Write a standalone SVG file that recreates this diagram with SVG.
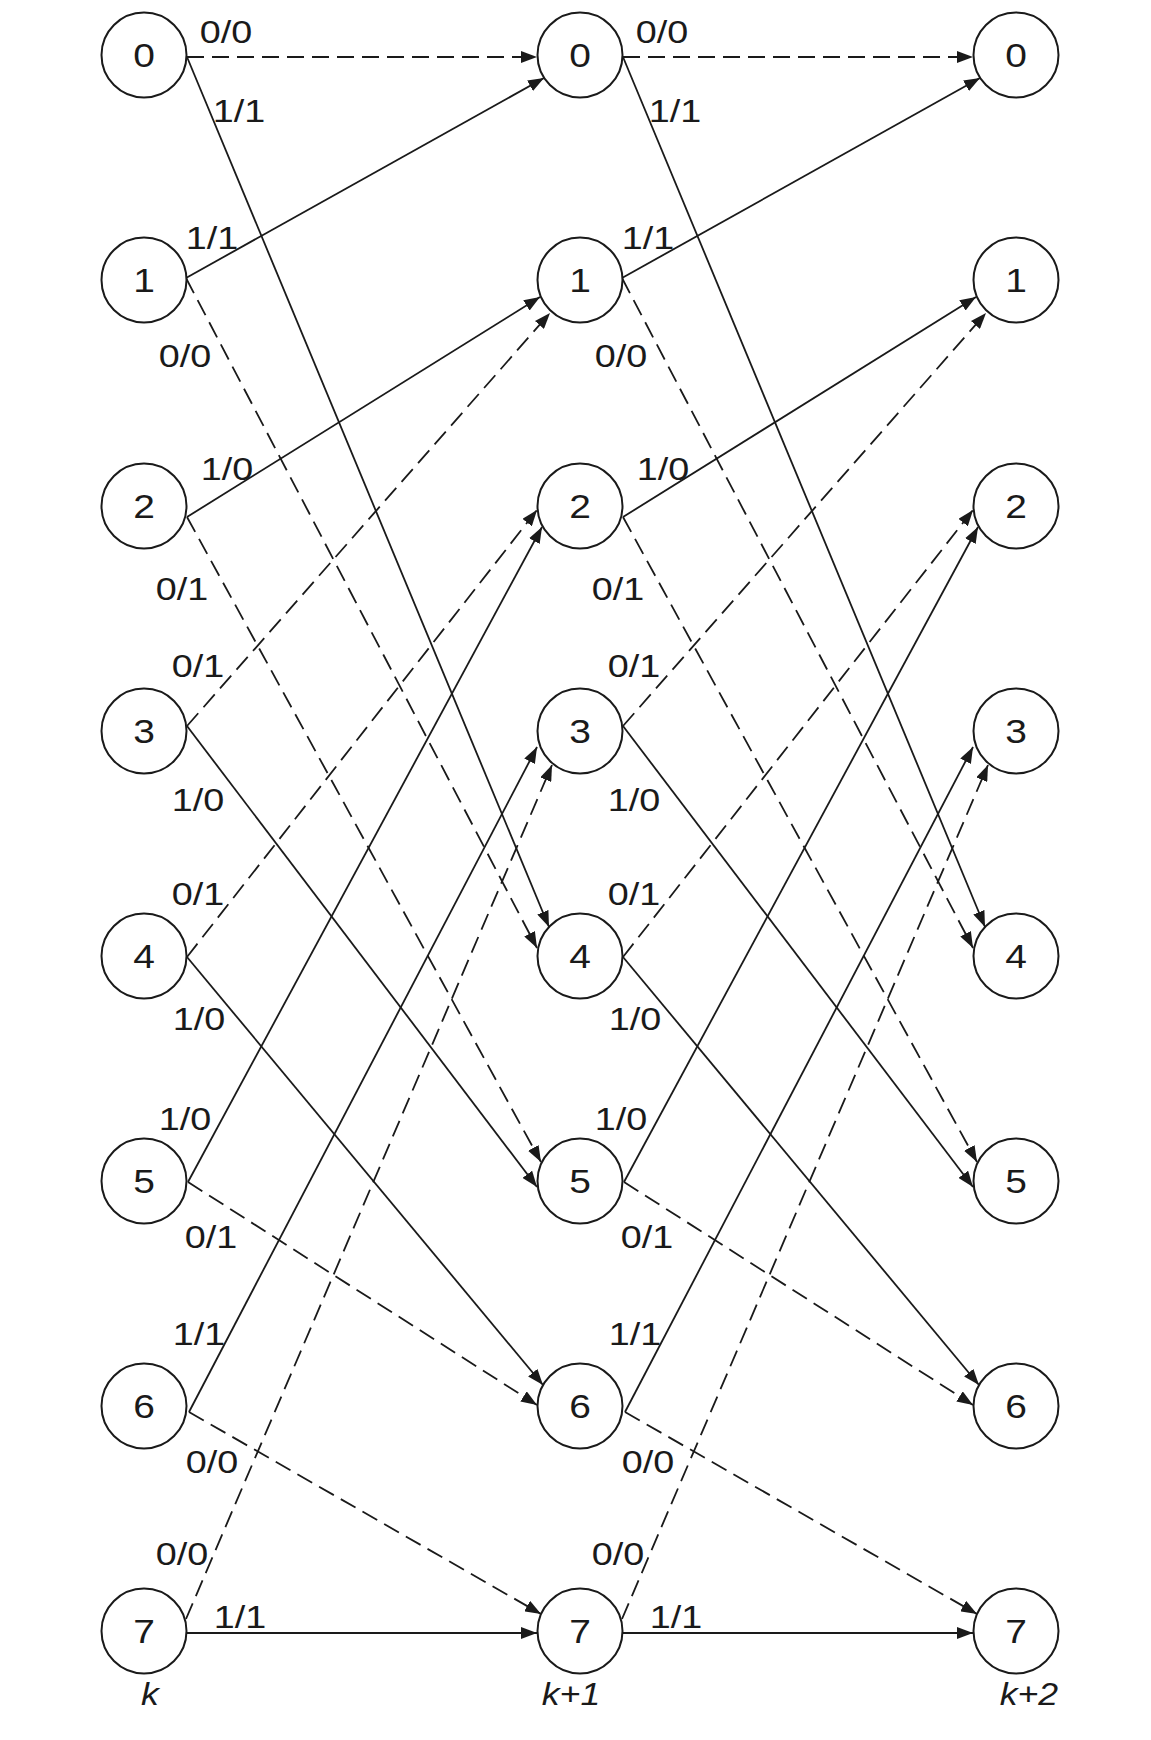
<svg xmlns="http://www.w3.org/2000/svg" width="1151" height="1740" viewBox="0 0 1151 1740">
<style>
.bg{fill:#ffffff}
.node circle{fill:#ffffff;stroke:#1a1a1a;stroke-width:2}
.num{font-family:"Liberation Sans",Arial,sans-serif;font-size:33px;fill:#1a1a1a;text-anchor:middle;transform-box:fill-box;transform-origin:center;transform:scaleX(1.18)}
.lbl{font-family:"Liberation Sans",Arial,sans-serif;font-size:32px;fill:#1a1a1a;text-anchor:middle;transform-box:fill-box;transform-origin:center;transform:scaleX(1.18)}
.ax{font-family:"Liberation Sans",Arial,sans-serif;font-size:31px;font-style:italic;fill:#1a1a1a;text-anchor:middle;transform-box:fill-box;transform-origin:center;transform:scaleX(1.15)}
.s{stroke:#1a1a1a;stroke-width:1.8;fill:none;marker-end:url(#arr)}
.d{stroke:#1a1a1a;stroke-width:1.8;fill:none;stroke-dasharray:17 8;marker-end:url(#arr)}
.ah{fill:#1a1a1a;stroke:none}
</style>
<defs>
<marker id="arr" markerUnits="userSpaceOnUse" markerWidth="17" markerHeight="12" refX="16" refY="6" orient="auto">
<path class="ah" d="M0,0 L16,6 L0,12 Z"/>
</marker>
</defs>
<rect class="bg" x="0" y="0" width="1151" height="1740"/>
<g id="connectors">
<g id="stage1">
<line class="d" x1="187" y1="57" x2="537" y2="57"/>
<line class="s" x1="187" y1="57" x2="549" y2="927"/>
<line class="s" x1="186" y1="278" x2="544" y2="78"/>
<line class="d" x1="186" y1="278" x2="537" y2="948"/>
<line class="s" x1="187" y1="517" x2="540" y2="297"/>
<line class="d" x1="187" y1="517" x2="541" y2="1162"/>
<line class="d" x1="187" y1="726" x2="550" y2="313"/>
<line class="s" x1="187" y1="726" x2="537" y2="1187"/>
<line class="d" x1="187" y1="957" x2="537" y2="510"/>
<line class="s" x1="187" y1="957" x2="543" y2="1385"/>
<line class="s" x1="188" y1="1182" x2="542" y2="527"/>
<line class="d" x1="188" y1="1182" x2="537" y2="1405"/>
<line class="s" x1="189" y1="1412" x2="537" y2="747"/>
<line class="d" x1="189" y1="1412" x2="541" y2="1614"/>
<line class="d" x1="186" y1="1619" x2="552" y2="765"/>
<line class="s" x1="186" y1="1633" x2="537" y2="1633"/>
</g>
<g id="stage2" transform="translate(436,0)">
<line class="d" x1="187" y1="57" x2="537" y2="57"/>
<line class="s" x1="187" y1="57" x2="549" y2="927"/>
<line class="s" x1="186" y1="278" x2="544" y2="78"/>
<line class="d" x1="186" y1="278" x2="537" y2="948"/>
<line class="s" x1="187" y1="517" x2="540" y2="297"/>
<line class="d" x1="187" y1="517" x2="541" y2="1162"/>
<line class="d" x1="187" y1="726" x2="550" y2="313"/>
<line class="s" x1="187" y1="726" x2="537" y2="1187"/>
<line class="d" x1="187" y1="957" x2="537" y2="510"/>
<line class="s" x1="187" y1="957" x2="543" y2="1385"/>
<line class="s" x1="188" y1="1182" x2="542" y2="527"/>
<line class="d" x1="188" y1="1182" x2="537" y2="1405"/>
<line class="s" x1="189" y1="1412" x2="537" y2="747"/>
<line class="d" x1="189" y1="1412" x2="541" y2="1614"/>
<line class="d" x1="186" y1="1619" x2="552" y2="765"/>
<line class="s" x1="186" y1="1633" x2="537" y2="1633"/>
</g>
<g id="labels1">
<text class="lbl" x="226" y="43">0/0</text>
<text class="lbl" x="239" y="122">1/1</text>
<text class="lbl" x="212" y="249">1/1</text>
<text class="lbl" x="185" y="367">0/0</text>
<text class="lbl" x="227" y="480">1/0</text>
<text class="lbl" x="182" y="600">0/1</text>
<text class="lbl" x="198" y="677">0/1</text>
<text class="lbl" x="198" y="811">1/0</text>
<text class="lbl" x="198" y="905">0/1</text>
<text class="lbl" x="199" y="1030">1/0</text>
<text class="lbl" x="185" y="1130">1/0</text>
<text class="lbl" x="211" y="1248">0/1</text>
<text class="lbl" x="199" y="1345">1/1</text>
<text class="lbl" x="212" y="1473">0/0</text>
<text class="lbl" x="182" y="1565">0/0</text>
<text class="lbl" x="240" y="1628">1/1</text>
</g>
<g id="labels2">
<text class="lbl" x="662" y="43">0/0</text>
<text class="lbl" x="675" y="122">1/1</text>
<text class="lbl" x="648" y="249">1/1</text>
<text class="lbl" x="621" y="367">0/0</text>
<text class="lbl" x="663" y="480">1/0</text>
<text class="lbl" x="618" y="600">0/1</text>
<text class="lbl" x="634" y="677">0/1</text>
<text class="lbl" x="634" y="811">1/0</text>
<text class="lbl" x="634" y="905">0/1</text>
<text class="lbl" x="635" y="1030">1/0</text>
<text class="lbl" x="621" y="1130">1/0</text>
<text class="lbl" x="647" y="1248">0/1</text>
<text class="lbl" x="635" y="1345">1/1</text>
<text class="lbl" x="648" y="1473">0/0</text>
<text class="lbl" x="618" y="1565">0/0</text>
<text class="lbl" x="676" y="1628">1/1</text>
</g>
</g>
<g id="col-k">
<g id="n0_k" class="node"><circle cx="144" cy="55" r="42.5"/><text class="num" x="144" y="67">0</text></g>
<g id="n1_k" class="node"><circle cx="144" cy="280" r="42.5"/><text class="num" x="144" y="292">1</text></g>
<g id="n2_k" class="node"><circle cx="144" cy="506" r="42.5"/><text class="num" x="144" y="518">2</text></g>
<g id="n3_k" class="node"><circle cx="144" cy="731" r="42.5"/><text class="num" x="144" y="743">3</text></g>
<g id="n4_k" class="node"><circle cx="144" cy="956" r="42.5"/><text class="num" x="144" y="968">4</text></g>
<g id="n5_k" class="node"><circle cx="144" cy="1181" r="42.5"/><text class="num" x="144" y="1193">5</text></g>
<g id="n6_k" class="node"><circle cx="144" cy="1406" r="42.5"/><text class="num" x="144" y="1418">6</text></g>
<g id="n7_k" class="node"><circle cx="144" cy="1631" r="42.5"/><text class="num" x="144" y="1643">7</text></g>
</g>
<g id="col-k1">
<g id="n0_k1" class="node"><circle cx="580" cy="55" r="42.5"/><text class="num" x="580" y="67">0</text></g>
<g id="n1_k1" class="node"><circle cx="580" cy="280" r="42.5"/><text class="num" x="580" y="292">1</text></g>
<g id="n2_k1" class="node"><circle cx="580" cy="506" r="42.5"/><text class="num" x="580" y="518">2</text></g>
<g id="n3_k1" class="node"><circle cx="580" cy="731" r="42.5"/><text class="num" x="580" y="743">3</text></g>
<g id="n4_k1" class="node"><circle cx="580" cy="956" r="42.5"/><text class="num" x="580" y="968">4</text></g>
<g id="n5_k1" class="node"><circle cx="580" cy="1181" r="42.5"/><text class="num" x="580" y="1193">5</text></g>
<g id="n6_k1" class="node"><circle cx="580" cy="1406" r="42.5"/><text class="num" x="580" y="1418">6</text></g>
<g id="n7_k1" class="node"><circle cx="580" cy="1631" r="42.5"/><text class="num" x="580" y="1643">7</text></g>
</g>
<g id="col-k2">
<g id="n0_k2" class="node"><circle cx="1016" cy="55" r="42.5"/><text class="num" x="1016" y="67">0</text></g>
<g id="n1_k2" class="node"><circle cx="1016" cy="280" r="42.5"/><text class="num" x="1016" y="292">1</text></g>
<g id="n2_k2" class="node"><circle cx="1016" cy="506" r="42.5"/><text class="num" x="1016" y="518">2</text></g>
<g id="n3_k2" class="node"><circle cx="1016" cy="731" r="42.5"/><text class="num" x="1016" y="743">3</text></g>
<g id="n4_k2" class="node"><circle cx="1016" cy="956" r="42.5"/><text class="num" x="1016" y="968">4</text></g>
<g id="n5_k2" class="node"><circle cx="1016" cy="1181" r="42.5"/><text class="num" x="1016" y="1193">5</text></g>
<g id="n6_k2" class="node"><circle cx="1016" cy="1406" r="42.5"/><text class="num" x="1016" y="1418">6</text></g>
<g id="n7_k2" class="node"><circle cx="1016" cy="1631" r="42.5"/><text class="num" x="1016" y="1643">7</text></g>
</g>
<g id="axis">
<text class="ax" x="150" y="1705">k</text>
<text class="ax" x="571" y="1705">k+1</text>
<text class="ax" x="1029" y="1705">k+2</text>
</g>
</svg>
